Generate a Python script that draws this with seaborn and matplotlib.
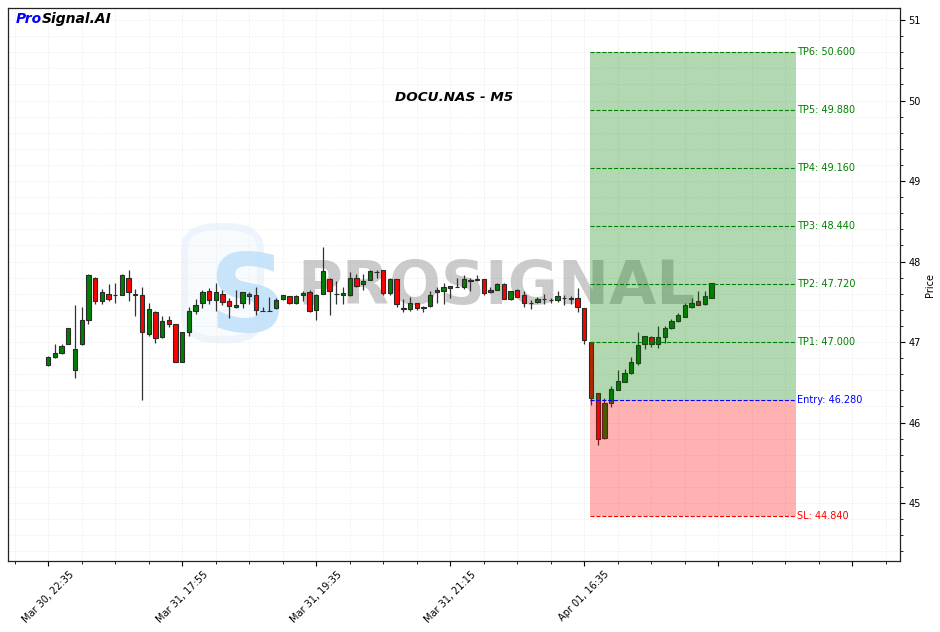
import matplotlib
matplotlib.use("Agg")
import matplotlib.pyplot as plt
from matplotlib.patches import FancyBboxPatch
from matplotlib.ticker import MultipleLocator, FixedLocator
import numpy as np
import pandas as pd
import seaborn as sns

# 5-minute candles
opens = [46.72, 46.81, 46.87, 46.97, 46.65, 46.97, 47.27, 47.79, 47.51, 47.60,
         47.59, 47.58, 47.80, 47.595, 47.59, 47.10, 47.37, 47.06, 47.27, 47.22,
         46.75, 47.12, 47.39, 47.48, 47.64, 47.52, 47.60, 47.51, 47.43, 47.49,
         47.60, 47.58, 47.39, 47.39, 47.42, 47.53, 47.57, 47.49, 47.58, 47.62,
         47.40, 47.60, 47.78, 47.60, 47.58, 47.59, 47.80, 47.72, 47.77, 47.875,
         47.89, 47.61, 47.78, 47.42, 47.41, 47.48, 47.43, 47.45, 47.62, 47.64,
         47.67, 47.69, 47.68, 47.762, 47.78, 47.78, 47.62, 47.65, 47.72, 47.53,
         47.65, 47.58, 47.49, 47.50, 47.538, 47.526, 47.52, 47.55, 47.54, 47.55,
         47.42, 47.00, 46.37, 45.81, 46.24, 46.41, 46.51, 46.61, 46.735, 46.97,
         47.06, 46.98, 47.06, 47.17, 47.26, 47.315, 47.43, 47.505, 47.47, 47.55]
highs = [46.83, 46.97, 46.98, 47.17, 47.46, 47.43, 47.85, 47.81, 47.66, 47.72,
         47.73, 47.85, 47.90, 47.66, 47.68, 47.48, 47.39, 47.32, 47.32, 47.23,
         47.12, 47.43, 47.53, 47.65, 47.67, 47.73, 47.65, 47.55, 47.65, 47.62,
         47.62, 47.68, 47.44, 47.56, 47.55, 47.59, 47.57, 47.58, 47.64, 47.65,
         47.60, 48.18, 47.79, 47.76, 47.69, 47.87, 47.84, 47.85, 47.89, 47.90,
         47.895, 47.80, 47.78, 47.53, 47.56, 47.49, 47.45, 47.63, 47.68, 47.73,
         47.70, 47.79, 47.83, 47.79, 47.83, 47.78, 47.68, 47.74, 47.73, 47.64,
         47.66, 47.63, 47.52, 47.56, 47.60, 47.55, 47.63, 47.59, 47.57, 47.67,
         47.42, 47.00, 46.37, 46.30, 46.45, 46.65, 46.66, 46.82, 47.12, 47.08,
         47.07, 47.20, 47.20, 47.285, 47.36, 47.48, 47.55, 47.63, 47.63, 47.73]
lows = [46.70, 46.80, 46.85, 46.97, 46.55, 46.96, 47.22, 47.47, 47.47, 47.51,
        47.48, 47.58, 47.51, 47.32, 46.28, 47.08, 46.99, 47.05, 47.19, 46.75,
        46.75, 47.08, 47.35, 47.42, 47.47, 47.38, 47.46, 47.30, 47.42, 47.42,
        47.47, 47.34, 47.38, 47.38, 47.41, 47.52, 47.47, 47.47, 47.51, 47.37,
        47.27, 47.60, 47.34, 47.47, 47.47, 47.57, 47.69, 47.65, 47.77, 47.80,
        47.59, 47.59, 47.44, 47.37, 47.39, 47.40, 47.37, 47.44, 47.48, 47.47,
        47.55, 47.68, 47.66, 47.63, 47.76, 47.59, 47.61, 47.65, 47.53, 47.52,
        47.56, 47.44, 47.41, 47.48, 47.47, 47.49, 47.50, 47.46, 47.47, 47.37,
        46.975, 46.22, 45.72, 45.80, 46.19, 46.40, 46.50, 46.60, 46.72, 46.91,
        46.94, 46.925, 46.99, 47.16, 47.25, 47.315, 47.42, 47.455, 47.46, 47.55]
closes = [46.81, 46.87, 46.95, 47.17, 46.92, 47.27, 47.83, 47.51, 47.62, 47.54,
          47.58, 47.83, 47.62, 47.59, 47.12, 47.41, 47.05, 47.26, 47.22, 46.75,
          47.12, 47.39, 47.46, 47.62, 47.52, 47.62, 47.50, 47.45, 47.46, 47.62,
          47.57, 47.40, 47.385, 47.385, 47.52, 47.58, 47.48, 47.57, 47.61, 47.39,
          47.59, 47.88, 47.64, 47.598, 47.61, 47.80, 47.70, 47.76, 47.88, 47.87,
          47.605, 47.78, 47.47, 47.41, 47.48, 47.42, 47.42, 47.59, 47.65, 47.69,
          47.70, 47.685, 47.78, 47.766, 47.775, 47.61, 47.65, 47.72, 47.53, 47.63,
          47.56, 47.48, 47.48, 47.54, 47.534, 47.524, 47.57, 47.546, 47.538, 47.43,
          47.02, 46.31, 45.80, 46.24, 46.42, 46.52, 46.62, 46.75, 46.96, 47.07,
          46.97, 47.06, 47.18, 47.26, 47.34, 47.455, 47.49, 47.465, 47.57, 47.73]

tick_idx = [0, 20, 40, 60, 80, 100, 120]
tick_labels = ["Mar 30, 22:35", "Mar 31, 17:55", "Mar 31, 19:35",
               "Mar 31, 21:15", "Apr 01, 16:35", "", ""]

entry = 46.28
stop_loss = 44.84
tp_names = ["TP1", "TP2", "TP3", "TP4", "TP5", "TP6"]
tp_levels = [47.00, 47.72, 48.44, 49.16, 49.88, 50.60]
zone_start, zone_end = 80.9, 111.6

df = pd.DataFrame({"open": opens, "high": highs, "low": lows, "close": closes})
df["idx"] = np.arange(len(df))
df["up"] = df["close"] >= df["open"]

sns.set_theme(style="white", rc={"text.color": "black", "axes.labelcolor": "black",
                                 "xtick.color": "black", "ytick.color": "black"})
plt.rcParams["font.family"] = ["DejaVu Sans"]

fig = plt.figure(figsize=(9.4, 6.32), dpi=100)
ax = fig.add_axes([0.0085, 0.1123, 0.9489, 0.8750])

# watermark
ax.add_patch(FancyBboxPatch((0.198, 0.40), 0.085, 0.205, transform=ax.transAxes,
                            boxstyle="round,pad=0,rounding_size=0.04",
                            facecolor="#f8fbfe", edgecolor="#edf4fb",
                            linewidth=5, zorder=0.4))
ax.text(0.268, 0.47, "S", transform=ax.transAxes, fontsize=78, fontweight="bold",
        color="#bfe0fa", alpha=0.85, ha="center", va="center", zorder=0.6)
ax.text(0.548, 0.495, "PROSIGNAL", transform=ax.transAxes, fontsize=44,
        fontweight="bold", color="#999999", alpha=0.5, ha="center", va="center",
        zorder=0.6)

# candles
ax.vlines(df["idx"], df["low"], df["high"], color="#333333", linewidth=0.9, zorder=2)
body_bottom = df[["open", "close"]].min(axis=1)
body_height = (df["close"] - df["open"]).abs().clip(lower=0.004)
ax.bar(df["idx"], body_height, bottom=body_bottom, width=0.65,
       color=np.where(df["up"], "green", "red"), edgecolor="#2a2a2a",
       linewidth=0.8, zorder=3)

# trade zone
ax.fill_between([zone_start, zone_end], entry, tp_levels[-1], color="green",
                alpha=0.3, linewidth=0, zorder=4)
ax.fill_between([zone_start, zone_end], stop_loss, entry, color="red",
                alpha=0.3, linewidth=0, zorder=4)
for name, lvl in zip(tp_names, tp_levels):
    ax.hlines(lvl, zone_start, zone_end, colors="green", linestyles="--",
              linewidth=0.8, zorder=5)
    ax.text(zone_end + 0.1, lvl, f"{name}: {lvl:.3f}", color="green",
            fontsize=7, va="center", ha="left", zorder=6)
ax.hlines(entry, zone_start, zone_end, colors="blue", linestyles="--",
          linewidth=0.8, zorder=5)
ax.text(zone_end + 0.1, entry, f"Entry: {entry:.3f}", color="blue",
        fontsize=7, va="center", ha="left", zorder=6)
ax.hlines(stop_loss, zone_start, zone_end, colors="red", linestyles="--",
          linewidth=0.8, zorder=5)
ax.text(zone_end + 0.1, stop_loss, f"SL: {stop_loss:.3f}", color="red",
        fontsize=7, va="center", ha="left", zorder=6)

# axes
ax.set_xlim(-6, 127.1)
ax.set_ylim(44.28, 51.15)
ax.xaxis.set_major_locator(FixedLocator(tick_idx))
ax.set_xticklabels(tick_labels, rotation=45, fontsize=7)
ax.xaxis.set_minor_locator(MultipleLocator(5))
ax.yaxis.set_major_locator(MultipleLocator(1))
ax.yaxis.set_minor_locator(MultipleLocator(0.2))
ax.yaxis.tick_right()
ax.yaxis.set_label_position("right")
ax.set_ylabel("Price", fontsize=7, labelpad=3)
ax.tick_params(axis="both", which="major", direction="out", length=3.5, width=0.8,
               labelsize=7, pad=2.5, bottom=True, right=True, left=False, top=False)
ax.tick_params(axis="both", which="minor", direction="out", length=2, width=0.6,
               bottom=True, right=True, left=False, top=False)
ax.grid(True, which="both", linestyle="--", color="#eeeeee", linewidth=0.5)
ax.set_axisbelow(True)
for sp in ax.spines.values():
    sp.set_color("#222222")
    sp.set_linewidth(0.9)

ax.text(0.5, 0.839, "DOCU.NAS - M5", transform=ax.transAxes, fontsize=9.7,
        fontweight="bold", fontstyle="italic", color="black", ha="center",
        va="center", zorder=7)
t1 = ax.text(0.009, 0.992, "Pro", transform=ax.transAxes, fontsize=10,
             fontweight="bold", fontstyle="italic", color="blue", va="top", zorder=7)
ax.annotate("Signal.AI", xy=(1, 0), xycoords=t1, va="bottom", fontsize=10,
            fontweight="bold", fontstyle="italic", color="black", zorder=7)

fig.savefig("out.png", dpi=100)
